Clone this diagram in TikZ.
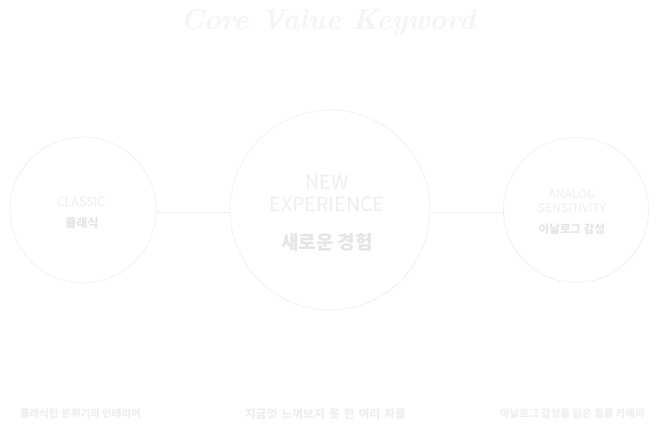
\documentclass[tikz,border=0pt]{standalone}
\usepackage{fontspec}
\newfontfamily\krfont{Noto Sans CJK KR}
\usetikzlibrary{positioning}
\definecolor{RingGray}{RGB}{240,240,240}
\definecolor{TitleGray}{RGB}{244,244,244}
\definecolor{WordGray}{RGB}{238,238,238}
\definecolor{HangulGray}{RGB}{228,228,228}

\begin{document}
\begin{tikzpicture}[x=1pt, y=-1pt, every node/.style={align=center, inner sep=0pt}]
  \useasboundingbox (0,0) rectangle (658,424);
  % title
  \node[font=\fontsize{28.5}{30}\selectfont\bfseries\itshape, TitleGray] (title) at (328,22) {Core Value Keyword};
  % keyword rings
  \node[draw=RingGray, line width=0.8pt, circle, minimum size=146pt] (classic) at (83,210) {};
  \node[draw=RingGray, line width=0.8pt, circle, minimum size=200pt] (newexp) at (330,210) {};
  \node[draw=RingGray, line width=0.8pt, circle, minimum size=145pt] (analog) at (576,210) {};
  \draw[RingGray, line width=0.8pt] (classic.east |- 0,212) -- (newexp.west |- 0,212);
  \draw[RingGray, line width=0.8pt] (newexp.east |- 0,212) -- (analog.west |- 0,212);
  % ring labels
  \node[font=\krfont\fontsize{12.5}{13}\selectfont, WordGray] (classicen) at (81,202) {CLASSIC};
  \node[font=\krfont\fontsize{12}{13}\selectfont\bfseries, HangulGray] (classickr) at (82,223) {클래식};
  \node[font=\krfont\fontsize{19.5}{22}\selectfont, WordGray] (newexpen) at (327,193) {NEW\\EXPERIENCE};
  \node[font=\krfont\fontsize{19}{21}\selectfont\bfseries, HangulGray] (newexpkr) at (327,242) {새로운 경험};
  \node[font=\krfont\fontsize{12}{14.5}\selectfont, WordGray] (analogen) at (572,201) {ANALOG\\SENSITIVITY};
  \node[font=\krfont\fontsize{11.5}{13}\selectfont\bfseries, HangulGray] (analogkr) at (572,229) {아날로그 감성};
  % captions
  \node[font=\krfont\fontsize{10.5}{12}\selectfont\bfseries, WordGray] (classiccap) at (80.5,414) {클래식한 분위기의 인테리어};
  \node[font=\krfont\fontsize{11.8}{13}\selectfont\bfseries, WordGray] (newexpcap) at (325.5,414) {\spaceskip=4pt\relax 지금껏 느껴보지 못 한 여러 차들};
  \node[font=\krfont\fontsize{10.5}{12}\selectfont\bfseries, WordGray] (analogcap) at (572.5,414) {아날로그 감성을 담은 필름 카메라};
\end{tikzpicture}
\end{document}
